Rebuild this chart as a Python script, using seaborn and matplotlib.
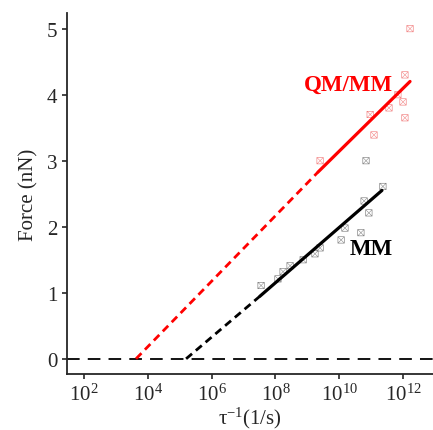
import numpy as np
import pandas as pd
import seaborn as sns
import matplotlib.pyplot as plt

# scatter points (x given as log10 of 1/tau)
qmmm_logx = [12.22, 12.06, 11.84, 12.00, 12.06, 11.56, 10.97, 11.09, 9.40]
qmmm_force = [5.00, 4.30, 4.00, 3.89, 3.65, 3.80, 3.70, 3.39, 3.00]

mm_logx = [10.84, 11.37, 10.78, 10.93, 10.18, 10.68, 10.06, 9.40, 9.24,
           8.87, 8.46, 8.24, 8.08, 7.55]
mm_force = [3.00, 2.61, 2.39, 2.21, 1.98, 1.91, 1.80, 1.68, 1.59,
            1.50, 1.41, 1.32, 1.21, 1.11]

# fitted lines: zero crossing, start of solid part, end of solid part
qmmm_fit_logx = [3.63, 9.34, 12.22]
qmmm_fit_force = [0.0, 2.83, 4.20]
mm_fit_logx = [5.20, 7.52, 11.34]
mm_fit_force = [0.0, 0.95, 2.55]

sns.set_style("ticks")
plt.rcParams['font.family'] = ['Liberation Serif', 'DejaVu Serif']
plt.rcParams['mathtext.fontset'] = 'custom'
plt.rcParams['mathtext.rm'] = 'Liberation Serif'
plt.rcParams['mathtext.it'] = 'Liberation Serif'
plt.rcParams['axes.linewidth'] = 1.3

qmmm = pd.DataFrame({"x": 10.0 ** np.array(qmmm_logx), "F": qmmm_force})
mm = pd.DataFrame({"x": 10.0 ** np.array(mm_logx), "F": mm_force})
qx = 10.0 ** np.array(qmmm_fit_logx)
mx = 10.0 ** np.array(mm_fit_logx)

fig = plt.figure(figsize=(4.33, 4.31), dpi=100)
ax = fig.add_axes([0.155, 0.13, 0.845, 0.838])

ax.axhline(0, color='black', ls=(0, (7, 4.5)), lw=1.3)

# dashed extrapolation + solid fit
sns.lineplot(x=qx[:2], y=qmmm_fit_force[:2], color='red', ls=(0, (2.8, 1.8)), lw=2, ax=ax)
sns.lineplot(x=qx[1:], y=qmmm_fit_force[1:], color='red', lw=2.3, ax=ax)
sns.lineplot(x=mx[:2], y=mm_fit_force[:2], color='black', ls=(0, (2.8, 1.8)), lw=2, ax=ax)
sns.lineplot(x=mx[1:], y=mm_fit_force[1:], color='black', lw=2.3, ax=ax)

sns.scatterplot(data=qmmm, x="x", y="F", marker=r'$\boxtimes$', s=25,
                color='#f07070', edgecolor='none', ax=ax)
sns.scatterplot(data=mm, x="x", y="F", marker=r'$\boxtimes$', s=25,
                color='#707070', edgecolor='none', ax=ax)

ax.set_xscale('log')
ax.set_xlim(10 ** 1.47, 10 ** 12.94)
ax.set_ylim(-0.23, 5.24)
ax.set_xticks([1e2, 1e4, 1e6, 1e8, 1e10, 1e12])
ax.minorticks_off()
ax.set_yticks([0, 1, 2, 3, 4, 5])

ax.text(10 ** 11.69, 4.15, "QM/MM", color='red', fontsize=16.5, fontweight='bold',
        ha='right', va='center')
ax.text(10 ** 11.69, 1.67, "MM", color='black', fontsize=16.5, fontweight='bold',
        ha='right', va='center')

ax.set_xlabel(r'$\mathrm{\tau^{-1}}$(1/s)', fontsize=15, labelpad=0)
ax.set_ylabel("Force (nN)", fontsize=15, labelpad=6)
ax.tick_params(labelsize=15, length=3.5, width=1.2, direction='out')
sns.despine(ax=ax)

plt.savefig('out.png', dpi=100)
